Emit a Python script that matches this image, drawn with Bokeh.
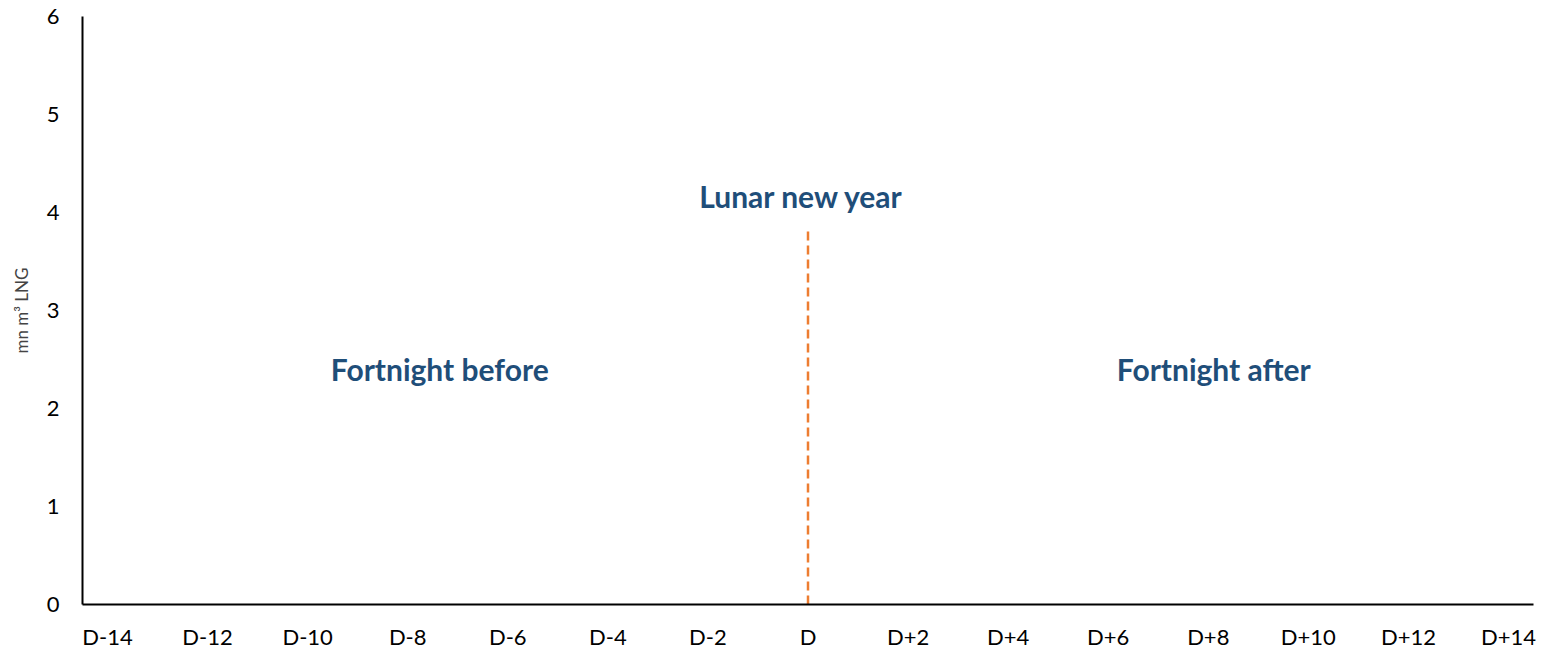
from bokeh.plotting import figure
from bokeh.models import Range1d, FixedTicker, ColumnDataSource
from bokeh.core.properties import value
from bokeh.embed import file_html
from bokeh.resources import INLINE

# data
days = list(range(-14, 15))
day_labels = ["D" if d == 0 else ("D%+d" % d) for d in days]
shown_ticks = [d for d in days if d % 2 == 0]
y_ticks = [0, 1, 2, 3, 4, 5, 6]
event_day = [0]
event_top = [3.82]
annotations = ["Fortnight before", "Lunar new year", "Fortnight after"]
ann_x = [-7.36, -0.13, 8.11]
ann_y = [2.40, 4.17, 2.40]

p = figure(width=1540, height=652, output_backend="svg", toolbar_location=None,
           x_range=Range1d(-14.5, 14.5), y_range=Range1d(0, 6),
           min_border_left=82, min_border_right=7, min_border_top=16, min_border_bottom=48)
p.outline_line_color = None
p.grid.visible = False

p.xaxis.ticker = FixedTicker(ticks=shown_ticks)
p.xaxis.major_label_overrides = {d: day_labels[i] for i, d in enumerate(days) if d in shown_ticks}
p.yaxis.ticker = FixedTicker(ticks=y_ticks)
for ax in (p.xaxis, p.yaxis):
    ax.axis_line_color = "black"
    ax.axis_line_width = 2
    ax.major_tick_line_color = None
    ax.minor_tick_line_color = None
    ax.major_tick_out = 0
    ax.major_tick_in = 0
    ax.major_label_text_font = "Lato"
    ax.major_label_text_font_size = "22px"
    ax.major_label_text_color = "#000000"
p.xaxis.major_label_standoff = 18
p.yaxis.major_label_standoff = 23
p.yaxis.axis_label = "mn m³ LNG"
p.yaxis.axis_label_text_font = "Lato"
p.yaxis.axis_label_text_font_style = "normal"
p.yaxis.axis_label_text_font_size = "17px"
p.yaxis.axis_label_standoff = 12

src = ColumnDataSource(dict(x=event_day, y0=[0] * len(event_day), y1=event_top))
p.segment(x0="x", y0="y0", x1="x", y1="y1", source=src, line_color="#ED7D31",
          line_width=2.5, line_dash="9 5")

tsrc = ColumnDataSource(dict(x=ann_x, y=ann_y, t=annotations))
p.text(x="x", y="y", text="t", source=tsrc, text_font=value("Lato"),
       text_font_style="bold", text_font_size="30px", text_color="#1F4E79",
       text_align="center", text_baseline="middle")

open("out.html", "w").write(file_html(p, INLINE))
